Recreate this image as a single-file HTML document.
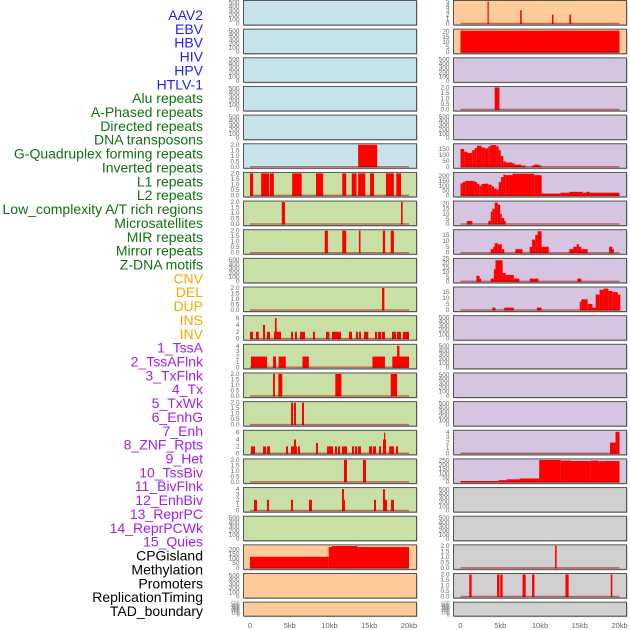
<!DOCTYPE html>
<html><head><meta charset="utf-8"><style>
html,body{margin:0;padding:0;background:#fff;width:630px;height:630px;overflow:hidden}
svg{display:block}
text{font-family:"Liberation Sans",sans-serif}
</style></head><body>
<svg id="chart" width="630" height="630" xmlns="http://www.w3.org/2000/svg"></svg>
<script>
// ---- Track labels ----
const labelNames = ["AAV2","EBV","HBV","HIV","HPV","HTLV-1","Alu repeats","A-Phased repeats","Directed repeats","DNA transposons","G-Quadruplex forming repeats","Inverted repeats","L1 repeats","L2 repeats","Low_complexity A/T rich regions","Microsatellites","MIR repeats","Mirror repeats","Z-DNA motifs","CNV","DEL","DUP","INS","INV","1_TssA","2_TssAFlnk","3_TxFlnk","4_Tx","5_TxWk","6_EnhG","7_Enh","8_ZNF_Rpts","9_Het","10_TssBiv","11_BivFlnk","12_EnhBiv","13_ReprPC","14_ReprPCWk","15_Quies","CPGisland","Methylation","Promoters","ReplicationTiming","TAD_boundary"];
const labelGroups = [6,13,5,15,5];
const groupColors = ["#1f1fee","#117011","#ffa500","#a020f0","#000000"];

// ---- X axis ----
const xTickKb = [0,5,10,15,20];
const xTickLabels = ["0","5kb","10kb","15kb","20kb"];

// ---- Y tick sets ----
const ticksE = [0,100,200,300,400,500];
const ticks2 = [0,0.5,1,1.5,2];
const ticks6 = [0,2,4,6];
const ticks4 = [0,1,2,3,4];
const ticks200 = [0,50,100,150,200];
const ticks5 = [0,1,2,3,4,5];
const ticks20 = [0,5,10,15,20];
const ticks150 = [0,50,100,150];
const ticks15 = [0,5,10,15];
const ticks25 = [0,5,10,15,20,25];
const ticks250 = [0,50,100,150,200,250];

// ---- Bar data: [startKb, endKb, value] ----
const L5 = [[13.6,16.0,2]];
const L6 = [[0,0.4,2],[1.4,2.4,2],[2.5,3.0,2],[5.3,6.5,2],[8.3,9.2,2],[11.6,12.1,2],[12.8,13.4,2],[13.6,14.5,2],[15.1,15.6,2],[17.1,18.1,2],[18.4,19.0,2]];
const L7 = [[4.0,4.4,2],[19.0,19.2,2]];
const L8 = [[9.4,9.8,2],[11.6,12.1,2],[13.7,13.9,2],[16.7,17.0,2],[17.7,18.1,2]];
const L10 = [[16.6,16.9,2]];
const L11 = [[0,0.38,2],[0.75,1.1,2],[1.64,1.89,4],[2.14,2.52,2],[3.02,3.9,2],[3.14,3.35,6],[5.16,5.41,2],[5.66,5.91,2],[6.29,6.92,2],[7.92,8.18,2],[9.56,9.98,2],[10.31,11.45,2],[12.45,12.83,2],[13.33,13.58,2],[13.71,13.96,2],[14.34,14.88,2],[15.72,15.97,2],[16.1,16.48,2],[16.6,16.98,2],[17.86,18.36,2],[18.49,18.99,2],[19.24,20.0,2]];
const L12 = [[0.12,2.14,2],[2.9,3.27,2],[3.6,4.5,2],[6.6,7.4,2],[15.4,16.98,2],[17.9,20.0,2],[18.5,18.8,4]];
const L13 = [[2.9,3.14,2],[3.56,4.06,2],[10.73,11.5,2],[17.7,18.5,2]];
const L14 = [[5.16,5.41,2],[5.53,5.78,2],[6.54,6.79,2]];
const L15 = [[0.12,0.63,2],[1.64,2.02,2],[2.14,2.52,2],[4.53,4.78,2],[5.16,5.91,2],[5.53,5.78,4],[6.04,6.29,2],[8.3,8.55,3],[9.69,10.44,2],[10.69,10.94,2],[11.07,11.32,2],[11.57,12.2,2],[12.83,13.08,2],[13.21,13.46,2],[13.58,13.96,2],[14.97,15.35,2],[15.47,15.85,2],[16.23,16.48,2],[16.73,17.11,4],[16.86,16.98,6],[17.5,18.11,2],[18.36,18.62,2]];
const L16 = [[11.82,12.2,2],[14.21,14.59,2]];
const L17 = [[0.5,0.88,2],[2.14,2.39,2],[5.16,5.41,2],[7.42,7.8,2],[11.57,11.95,2],[11.57,11.82,4],[15.6,15.85,2],[16.73,17.23,2],[16.73,16.98,4],[17.74,18.11,2]];
const L19 = [[0,9.9,120],[9.9,20.0,225],[10.3,13.5,236]];

const R0 = [[3.4,3.55,5],[7.5,7.7,3],[11.5,11.7,2],[13.7,13.9,2]];
const R1 = [[0,20.0,21]];
const R3 = [[4.3,4.9,2]];
const R5 = [[0,0.46,150],[0.46,0.88,127],[0.88,1.47,116],[1.47,1.77,140],[1.77,2.06,158],[2.06,2.65,178],[2.65,3.07,163],[3.07,3.5,155],[3.5,3.79,173],[3.79,4.51,183],[4.51,4.8,173],[4.8,5.06,140],[5.06,5.39,90],[5.39,5.73,44],[5.73,6.53,36],[6.53,6.83,28],[6.83,7.63,18],[7.63,8.18,10],[8.98,9.27,10],[9.27,9.91,18],[9.91,10.2,10]];
const R6 = [[0,0.29,125],[0.29,0.59,140],[0.59,1.77,150],[1.77,2.07,140],[2.07,2.36,119],[2.36,2.66,100],[2.66,3.08,119],[3.08,3.5,122],[3.5,3.92,112],[3.92,4.22,94],[4.22,4.51,72],[4.51,4.81,62],[4.81,5.1,137],[5.1,5.4,190],[5.4,5.7,215],[5.7,6.54,210],[6.54,9.28,225],[9.28,10.21,210],[10.21,12.57,19],[12.57,13.71,28],[13.71,15.4,37],[15.4,15.82,28],[15.82,16.24,37],[16.24,20.0,28]];
const R7 = [[0.8,1.5,3],[3.5,3.8,3],[3.8,4.0,12],[4.0,4.3,15],[4.3,4.7,21],[4.7,5.0,19],[5.0,5.2,10],[5.2,5.5,6],[5.5,5.7,3]];
const R8 = [[3.8,4.1,3],[4.1,4.3,5],[4.3,4.7,8],[4.7,5.2,7],[5.2,5.5,3],[6.9,7.8,3],[8.7,9.0,5],[9.0,9.4,11],[9.4,9.7,15],[9.7,10.2,18],[10.2,11.1,5],[13.7,14.2,3],[14.2,14.6,5],[14.6,14.9,7],[14.9,15.2,5],[15.2,16.0,3],[18.7,19.1,5],[19.1,19.3,3]];
const R9 = [[2.0,2.4,6],[2.4,2.6,3],[3.8,4.2,3],[4.2,4.4,13],[4.4,5.3,23],[5.3,5.7,9],[5.7,6.7,7],[6.7,7.4,3],[8.7,9.8,3],[14.7,15.2,3]];
const R10 = [[4.0,4.4,2],[5.5,6.7,2],[9.6,10.2,2],[15.0,15.2,7],[15.2,16.0,9],[16.0,16.6,5],[16.6,17.0,2],[17.0,17.5,13],[17.5,18.0,17],[18.0,18.6,18],[18.6,19.1,16],[19.1,19.8,15],[19.8,20.1,13]];
const R15 = [[18.8,19.5,2],[19.5,20.0,4]];
const R16 = [[0,4.8,10],[4.8,5.8,20],[5.8,7.5,30],[7.5,9.9,40],[9.9,12.6,257],[12.6,13.9,250],[13.9,16.4,245],[16.4,17.3,250],[17.3,18.3,243],[18.3,20.0,245]];
const R19 = [[11.9,12.1,2]];
const R20 = [[1.1,1.4,2],[4.6,4.9,2],[5.0,5.3,2],[7.8,8.2,2],[9.0,9.3,2],[13.2,13.6,2],[18.9,19.1,2]];

const BLUE="#c7e3ea", GREEN="#c8e0a5", PEACH="#ffcc99", PURPLE="#d5c5e1", GRAY="#d0d0d0";
// panel spec: [col,row,bg,ymax,ticks,decimals,bars]
const panels = [
 [0,0,BLUE,520,ticksE,0,null],[0,1,BLUE,520,ticksE,0,null],[0,2,BLUE,520,ticksE,0,null],[0,3,BLUE,520,ticksE,0,null],[0,4,BLUE,520,ticksE,0,null],
 [0,5,BLUE,2,ticks2,1,L5],[0,6,GREEN,2,ticks2,1,L6],[0,7,GREEN,2,ticks2,1,L7],[0,8,GREEN,2,ticks2,1,L8],[0,9,GREEN,520,ticksE,0,null],
 [0,10,GREEN,2,ticks2,1,L10],[0,11,GREEN,6.4,ticks6,0,L11],[0,12,GREEN,4.1,ticks4,0,L12],[0,13,GREEN,2,ticks2,1,L13],[0,14,GREEN,2,ticks2,1,L14],
 [0,15,GREEN,6.4,ticks6,0,L15],[0,16,GREEN,2,ticks2,1,L16],[0,17,GREEN,4.1,ticks4,0,L17],[0,18,GREEN,520,ticksE,0,null],[0,19,PEACH,238,ticks200,0,L19],
 [0,20,PEACH,520,ticksE,0,null],[0,21,PEACH,520,ticksE,0,null],
 [1,0,PEACH,5,ticks5,0,R0],[1,1,PEACH,21.5,ticks20,0,R1],[1,2,PURPLE,520,ticksE,0,null],[1,3,PURPLE,2,ticks2,1,R3],[1,4,PURPLE,520,ticksE,0,null],
 [1,5,PURPLE,186,ticks150,0,R5],[1,6,PURPLE,228,ticks200,0,R6],[1,7,PURPLE,21.5,ticks20,0,R7],[1,8,PURPLE,18.5,ticks15,0,R8],[1,9,PURPLE,24,ticks25,0,R9],
 [1,10,PURPLE,18.5,ticks15,0,R10],[1,11,PURPLE,520,ticksE,0,null],[1,12,PURPLE,520,ticksE,0,null],[1,13,PURPLE,520,ticksE,0,null],[1,14,PURPLE,520,ticksE,0,null],
 [1,15,PURPLE,4.1,ticks4,0,R15],[1,16,PURPLE,258,ticks250,0,R16],[1,17,GRAY,520,ticksE,0,null],[1,18,GRAY,520,ticksE,0,null],[1,19,GRAY,2,ticks2,1,R19],
 [1,20,GRAY,2,ticks2,1,R20],[1,21,GRAY,520,ticksE,0,null]
];

const NS="http://www.w3.org/2000/svg";
const svg=document.getElementById('chart');
function mk(tag,attrs,parent){const e=document.createElementNS(NS,tag);for(const k in attrs)e.setAttribute(k,attrs[k]);(parent||svg).appendChild(e);return e;}

// labels
let gi=0, cnt=0;
labelNames.forEach((nm,i)=>{
  while(cnt>=labelGroups[gi]){cnt-=labelGroups[gi];gi++;}
  const t=mk('text',{x:203,y:15+i*13.86+5,'text-anchor':'end','font-size':'14',fill:groupColors[gi]});
  t.textContent=nm;
  
  
  cnt++;
});

const colX=[243.5,453.5], colW=173, kb0=[250,460.5], kbScale=7.95;
function xScale(col,kb){return kb0[col]+kb*kbScale;}
function rowTop(r){return 0.5+r*28.65;}
function rowH(r){return r===21?14:24.5;}

panels.forEach(p=>{
  const [col,row,bg,ymax,ticks,dec,bars]=p;
  const top=rowTop(row), h=rowH(row), x=colX[col];
  const g=mk('g',{});
  
  
  mk('rect',{x:x+1,y:top+1,width:colW,height:h,fill:'#b0b0b0'},g);
  mk('rect',{x:x,y:top,width:colW,height:h,fill:bg,stroke:'#555','stroke-width':1},g);
  const y0=top+h-1.5, y1=top+1;
  const yS=v=>y0-(v/ymax)*(y0-y1);
  if(bars){
    bars.forEach(b=>{
      const xa=xScale(col,b[0]), xb=xScale(col,b[1]);
      const r=mk('rect',{x:xa,y:yS(b[2]),width:Math.max(1.2,xb-xa),height:y0-yS(b[2])+0.5,fill:'#ff0000'},g);
      
      
    });
    mk('line',{x1:xScale(col,0),x2:xScale(col,20),y1:y0,y2:y0,stroke:'rgba(160,0,0,0.5)','stroke-width':1.5},g);
  }
  ticks.forEach(v=>{
    const t=mk('text',{x:x-4,y:yS(v)+2,'text-anchor':'end','font-size':(row===21?'5':'6.5'),fill:'#666'},g);
    t.textContent=v.toFixed(dec);
    
    
  });
});

// x axes
[0,1].forEach(col=>{
  xTickKb.forEach((k,i)=>{
    const t=mk('text',{x:xScale(col,k),y:628,'text-anchor':'middle','font-size':'7.5',fill:'#666'});
    t.textContent=xTickLabels[i];
    
    
  });
});
</script>
</body></html>
